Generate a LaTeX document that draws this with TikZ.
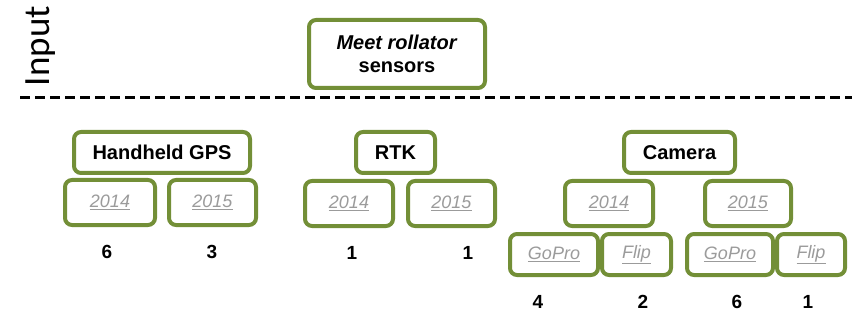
\documentclass[tikz,border=0pt]{standalone}
\usepackage{fontspec}
\setmainfont{Liberation Sans}
\newfontfamily\labelfont{Carlito}
\definecolor{olive}{RGB}{115,143,55}
\definecolor{linkgrey}{RGB}{155,155,155}
\newcommand{\yr}[1]{\textcolor{linkgrey}{\underline{\textit{#1}}}}
\tikzset{
	box/.style={draw=olive, line width=4pt, rounded corners=7pt, fill=white, inner sep=0pt,
		font=\fontsize{20}{23}\selectfont\bfseries},
	sub/.style={box, font=\fontsize{18}{20}\selectfont},
	count/.style={font=\fontsize{19}{21}\selectfont\bfseries}
}
\begin{document}
\begin{tikzpicture}[x=1pt,y=-1pt]
		\useasboundingbox (0,0) rectangle (852,334);

		\node (I) [rotate=90, font=\labelfont\fontsize{37}{39}\selectfont] at (41,46) {Input};
		\coordinate (L) at (20,98);
		\coordinate (R) at (852,98);
		\draw [line width=3pt, dash pattern=on 10pt off 5pt] (L) -- (R);

		\node (M) [box, minimum width=176pt, minimum height=68pt, align=center] at (397,54)
			{\textit{Meet rollator}\\sensors};

		\begin{scope}[every node/.style={sub, minimum height=45pt}]
			\node (A1) [minimum width=90pt] at (110,202.5) {\yr{2014}};
			\node (A2) [minimum width=87pt] at (212.5,202.5) {\yr{2015}};
			\node (B1) [minimum width=88pt] at (349,203.5) {\yr{2014}};
			\node (B2) [minimum width=87pt] at (451.5,203.5) {\yr{2015}};
			\node (C1) [minimum width=88pt] at (609,203.5) {\yr{2014}};
			\node (C2) [minimum width=86pt] at (748,203.5) {\yr{2015}};
		\end{scope}

		\begin{scope}[every node/.style={sub, minimum height=41pt}]
			\node (C11) [minimum width=88pt] at (554,254.5) {\yr{GoPro}};
			\node (C12) [minimum width=69pt] at (636.5,254.5) {\yr{Flip}};
			\node (C21) [minimum width=86pt] at (730,254.5) {\yr{GoPro}};
			\node (C22) [minimum width=68pt] at (811,254.5) {\yr{Flip}};
		\end{scope}

		\begin{scope}[every node/.style={box, minimum height=41pt}]
			\node (A) [minimum width=176pt] at (162,152.5) {Handheld GPS};
			\node (B) [minimum width=79pt] at (395.5,152.5) {RTK};
			\node (C) [minimum width=111pt] at (679.5,152.5) {Camera};
		\end{scope}

		\begin{scope}[every node/.style={count}]
			\node (nA1) at (107,252) {6};
			\node (nA2) at (212,252) {3};
			\node (nB1) at (352,253) {1};
			\node (nB2) at (468,253) {1};
			\node (nC11) at (538,302) {4};
			\node (nC12) at (643,302) {2};
			\node (nC21) at (737,302) {6};
			\node (nC22) at (808,302) {1};
		\end{scope}

	\end{tikzpicture}
\end{document}
